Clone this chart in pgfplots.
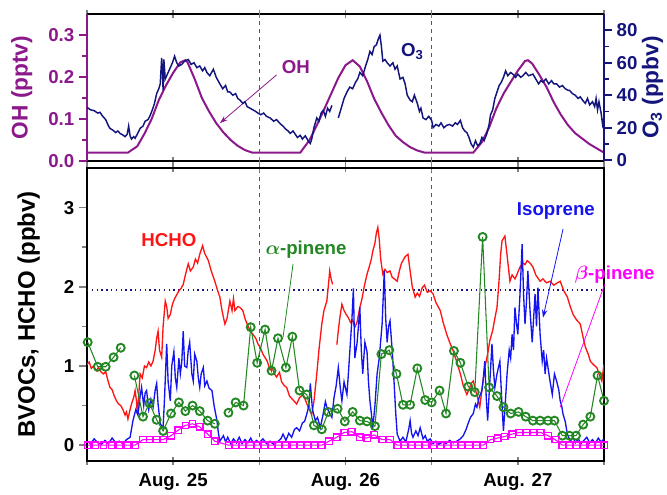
\documentclass[border=0pt]{standalone}
\usepackage{fontspec}
\setmainfont{Liberation Sans}
\usepackage{pgfplots}
\pgfplotsset{compat=1.18}
\usetikzlibrary{arrows.meta}

\definecolor{ohc}{RGB}{140,25,140}
\definecolor{o3c}{RGB}{20,20,125}
\definecolor{hchoc}{RGB}{255,20,20}
\definecolor{isoc}{RGB}{20,20,240}
\definecolor{apc}{RGB}{35,135,35}
\definecolor{bpc}{RGB}{255,0,255}

\tikzset{note/.style={font=\bfseries\fontsize{14}{16}\selectfont}}
\pgfplotsset{
  panel/.style={
    scale only axis, width=387.75pt, xmin=0, xmax=72,
    major tick length=6pt, minor tick length=3.5pt,
    tick style={line width=1.2pt},
    tick label style={font=\bfseries\fontsize{14}{16}\selectfont},
    axis line style={line width=1.8pt},
    clip mode=individual,
  },
  xframe/.style={
    axis y line=none, axis x line*=box, ymin=0, ymax=1,
    tick align=center,
    xtick={0,12,...,72},
    extra x ticks={24,48}, extra x tick labels={},
    extra x tick style={grid=major, major grid style={dashed, black!65, line width=0.9pt}},
  },
}

\begin{document}
\begin{tikzpicture}
\useasboundingbox (0,0) rectangle (500.25pt,-370.5pt);

% ---------- top panel: frame with time ticks
\begin{axis}[panel, xframe, at={(65.25pt,-10.5pt)}, anchor=north west, height=110.25pt,
  xticklabels={,,,,,,}]
\end{axis}

% OH (left axis)
\begin{axis}[panel, at={(65.25pt,-10.5pt)}, anchor=north west, height=110.25pt,
  axis x line=none, axis y line*=left, xtick=\empty,
  ymin=0, ymax=0.35, ytick={0,0.1,0.2,0.3}, yticklabels={0.0,0.1,0.2,0.3},
  minor y tick num=1, tick align=outside,
  axis line style={ohc}, tick style={ohc}, yticklabel style={ohc},
  ylabel={OH (pptv)},
  every axis y label/.style={at={(axis description cs:-0.126,0.5)}, rotate=90, anchor=center,
    text=ohc, font=\bfseries\fontsize{17}{19}\selectfont}]
\addplot[ohc, line width=1.5pt] coordinates {
(0,0.02)(5.7,0.02)(7,0.035)(8,0.065)(9,0.1)(10,0.145)(11,0.18)(12,0.21)(13,0.235)(13.7,0.24)
(14,0.235)(15,0.195)(16,0.15)(17,0.118)(18,0.09)(19,0.068)(20,0.05)(21,0.036)(22,0.026)(23,0.02)
(29.7,0.02)(31,0.05)(32,0.085)(33,0.122)(34,0.16)(35,0.198)(36,0.228)(37,0.24)
(38,0.225)(39,0.19)(40,0.148)(41,0.115)(42,0.085)(43,0.06)(44,0.045)(45,0.033)(46,0.025)(47,0.02)
(53.8,0.02)(55,0.045)(56,0.08)(57,0.125)(58,0.16)(59,0.188)(60,0.215)(61,0.238)(61.4,0.24)
(62,0.232)(63,0.205)(64,0.176)(65,0.14)(66,0.11)(67,0.085)(68,0.066)(69,0.053)(70,0.04)(71,0.03)(72,0.02)};
\node[note, ohc] at (29.1,0.223) {OH};
\draw[ohc, line width=0.6pt, -{Stealth[length=6pt,width=4pt]}] (26.4,0.205) -- (18.5,0.09);
\node[note, o3c] at (45.3,0.26) {O\textsubscript{3}};
\end{axis}

% O3 (right axis)
\begin{axis}[panel, at={(65.25pt,-10.5pt)}, anchor=north west, height=110.25pt,
  axis x line=none, axis y line*=right, xtick=\empty,
  ymin=-0.5, ymax=90, ytick={0,20,40,60,80}, yticklabels={0,20,40,60,80},
  minor y tick num=1, tick align=outside,
  axis line style={o3c}, tick style={o3c}, yticklabel style={o3c},
  ylabel={O\textsubscript{3} (ppbv)},
  every axis y label/.style={at={(axis description cs:1.094,0.5)}, rotate=90, anchor=center,
    text=o3c, font=\bfseries\fontsize{17}{19}\selectfont}]
\addplot[o3c, line width=1.1pt] coordinates {
(0,32.5)(0.5,31)(1,30.5)(1.5,29)(1.8,29.5)(2.2,27)(2.6,25)(3.0,21)(3.2,19.6)(3.6,18.5)(4,17)(4.3,18)
(4.6,16.5)(5,15.5)(5.3,14.5)(5.6,16)(5.8,21)(6,15)(6.2,13)(6.5,14.5)(6.7,13.5)(7,16)(7.4,19.6)(7.8,21)
(8.1,24)(8.5,25)(8.8,27.6)(9.1,31)(9.4,35)(9.7,41)(10,44)(10.2,47)(10.4,63)(10.5,55)(10.6,43)(10.7,62)
(10.9,50)(11.2,53)(11.6,57)(11.9,60)(12.2,64)(12.5,60)(12.8,58)(13.2,59)(13.6,61)(14.1,62)(14.5,59)
(14.9,60)(15.3,57)(15.7,58)(16.1,55)(16.4,57)(16.7,54)(17.1,52)(17.6,56)(18,51)(18.5,47)(18.9,44)
(19.3,46)(19.6,42)(19.9,42)(20.3,40)(20.7,41)(21,38)(21.3,37)(21.7,35)(22,36)(22.3,33)(22.7,32)
(23.1,31)(23.5,30)(23.8,29)(24.2,28)(24.6,29)(25,27)(25.5,26)(26,24)(26.4,25)(26.9,22.5)(27.3,21)
(27.7,19)(28,18)(28.3,16.5)(28.7,18)(29,16)(29.3,14)(29.7,15.3)(30,13)(30.4,15)(30.8,12)(31.1,10.3)
(31.3,13)(31.6,20)(32,26)(32.3,24)(32.6,29)(32.9,30.7)(33.2,27)(33.5,32)(33.8,30)(34.1,33.7)};
\addplot[o3c, line width=1.1pt] coordinates {
(35,26)(35.4,32)(35.8,38)(36.2,42)(36.6,45)(37,44)(37.4,48)(37.7,50)(38,54)(38.4,52)(38.8,58)(39.1,62)
(39.4,67)(39.7,65)(40,70)(40.3,71)(40.6,75)(40.8,77)(41.0,70)(41.2,61)(41.5,62)(41.8,60)(42.2,58)
(42.6,60)(42.9,56)(43.2,58)(43.6,50)(44,51)(44.3,47)(44.6,40)(45,37)(45.3,36)(45.6,40)(46,35)(46.3,30)
(46.5,32)(46.8,26)(47.2,25)(47.6,27)(48,24.5)(48.2,20)(48.6,22)(49,21)(49.3,23)(49.7,20)(50.1,21.5)
(50.5,22)(50.9,21)(51.3,23)(51.6,22)(52,24.5)(52.3,20)(52.6,18)(52.9,17)(53.2,14)(53.5,10)(53.8,8)
(54.1,12)(54.4,9)(54.7,10)(55,14)(55.3,12)(55.7,16.5)(56,22)(56.2,28)(56.5,31)(56.8,38)(57.1,42)
(57.4,46)(57.7,48)(58,51)(58.3,55)(58.6,52)(59,54)(59.3,53)(59.7,51)(60,53)(60.4,51)(60.7,52)(61.1,54)
(61.5,52)(62.1,53)(62.5,50)(62.9,47)(63.2,49)(63.5,48)(63.9,50)(64.3,47)(64.7,49)(65,47)(65.4,47)
(65.8,45)(66.2,46)(66.6,44)(67,43)(67.2,43)(67.6,41)(68,40)(68.4,38)(68.7,39)(69,37)(69.4,35)(69.7,38)
(70,34)(70.4,36)(70.7,33)(70.9,38)(71.1,31)(71.3,36)(71.6,29)(71.8,22)(72,26)};
\end{axis}

% ---------- bottom panel: frame with time ticks
\begin{axis}[panel, xframe, at={(65.25pt,-126pt)}, anchor=north west, height=219.75pt,
  xticklabels={,Aug. 25,,Aug. 26,,Aug. 27,}, xticklabel style={yshift=-3pt}]
\end{axis}

% BVOCs and HCHO
\begin{axis}[panel, at={(65.25pt,-126pt)}, anchor=north west, height=219.75pt,
  xtick=\empty, ymin=-0.2, ymax=3.5, ytick={0,1,2,3}, yticklabels={0,1,2,3}, minor y tick num=1,
  ytick pos=left, tick align=outside, unbounded coords=jump,
  ylabel={BVOCs, HCHO (ppbv)},
  every axis y label/.style={at={(axis description cs:-0.113,0.5)}, rotate=90, anchor=center,
    font=\bfseries\fontsize{18}{20}\selectfont}]
\addplot[o3c, line width=0.9pt, dash pattern=on 1pt off 2.6pt] coordinates {(0,1.96)(72,1.96)};
% HCHO
\addplot[hchoc, line width=1pt] coordinates {
(0,1.02)(0.3,1.05)(0.6,0.97)(0.9,1.0)(1.3,0.94)(1.6,0.98)(2,0.92)(2.3,0.9)(2.6,0.93)(2.9,0.82)(3.2,0.73)
(3.5,0.7)(3.8,0.62)(4.1,0.56)(4.4,0.52)(4.7,0.5)(5,0.45)(5.3,0.38)(5.5,0.42)(5.7,0.33)(6,0.45)(6.2,0.52)
(6.5,0.6)(6.7,0.69)(6.9,0.55)(7.0,0.39)(7.2,0.62)(7.4,0.9)(7.7,0.85)(8,1.0)(8.3,0.98)(8.6,1.05)(8.9,1.0)
(9.2,1.06)(9.5,1.2)(9.7,1.35)(9.9,1.44)(10.1,1.2)(10.4,1.11)(10.6,1.5)(10.9,1.82)(11.1,1.75)(11.3,1.6)
(11.6,1.65)(11.9,1.78)(12.2,1.85)(12.5,1.9)(12.8,1.95)(13.1,1.98)(13.4,2.03)(13.7,2.15)(14.1,2.29)
(14.4,2.2)(14.8,2.25)(15.1,2.35)(15.4,2.3)(15.7,2.41)(16.1,2.52)(16.4,2.42)(16.9,2.33)(17.3,2.2)
(17.8,2.07)(18.2,1.95)(18.5,1.87)(18.8,1.7)(19.2,1.53)(19.5,1.6)(19.9,1.82)(20.2,1.7)(20.4,1.85)
(20.6,1.7)(21,1.75)(21.3,1.74)(21.7,1.7)(22,1.6)(22.3,1.53)(22.7,1.45)(23.1,1.4)(23.5,1.35)(23.8,1.28)
(24.1,1.24)(24.5,1.15)(25.1,1.06)(25.5,0.95)(25.8,0.98)(26.1,0.9)(26.4,0.86)(26.8,0.92)(27.1,0.8)
(27.5,0.75)(27.8,0.73)(28.2,0.62)(28.6,0.58)(28.9,0.55)(29.2,0.52)(29.6,0.6)(30.1,0.64)(30.5,0.55)
(30.8,0.48)(31.1,0.42)(31.3,0.39)(31.6,0.55)(32,0.9)(32.3,1.2)(32.7,1.53)(33,1.7)(33.4,1.82)(33.6,2.0)
(33.8,2.2)(34,2.1)(34.2,2.03)};
\addplot[hchoc, line width=1pt] coordinates {
(34.8,1.27)(35,1.45)(35.2,1.6)(35.5,1.78)(35.8,1.7)(36.1,1.65)(36.4,1.61)(36.7,1.55)(37,1.58)(37.3,1.49)
(37.6,1.55)(38,1.74)(38.3,1.85)(38.6,2.0)(39,2.16)(39.3,2.25)(39.6,2.35)(39.8,2.45)(40.1,2.55)(40.3,2.68)
(40.5,2.75)(40.7,2.6)(40.9,2.35)(41.2,2.16)(41.5,2.22)(41.8,2.18)(42.2,2.2)(42.5,2.12)(42.8,2.1)
(43.2,2.07)(43.5,2.2)(43.8,2.3)(44,2.33)(44.3,2.38)(44.7,2.41)(45,2.2)(45.3,2.0)(45.7,1.87)(46,1.92)
(46.3,1.88)(46.7,1.99)(47,2.02)(47.4,1.93)(47.8,1.95)(48.2,1.91)(48.6,1.8)(49.2,1.7)(49.6,1.55)
(50.1,1.4)(50.5,1.3)(51,1.19)(51.5,1.05)(52,0.9)(52.4,0.75)(52.9,0.64)(53.2,0.7)(53.5,0.78)(53.8,0.81)
(54.1,0.7)(54.4,0.6)(54.7,0.48)(55,0.7)(55.4,0.98)(55.8,1.15)(56.1,1.32)(56.5,1.45)(56.8,1.6)(57.1,1.74)
(57.4,2.1)(57.6,2.4)(57.8,2.58)(58.2,2.64)(58.5,2.4)(58.9,2.07)(59.2,2.15)(59.6,2.1)(59.9,2.16)
(60.3,2.25)(60.7,2.3)(61,2.28)(61.3,2.33)(61.7,2.3)(62.1,2.25)(62.5,2.15)(63.1,2.07)(63.5,2.1)(64,2.05)
(64.5,2.07)(65,2.02)(65.5,2.05)(65.9,2.07)(66.4,1.95)(66.9,1.87)(67.3,1.75)(67.7,1.65)(68.2,1.58)
(68.7,1.53)(69,1.4)(69.4,1.24)(69.8,1.15)(70.1,1.06)(70.5,1.02)(71,0.98)(71.3,0.9)(71.7,0.81)(72,1.02)};
% Isoprene
\addplot[isoc, line width=1pt] coordinates {
(0,0.05)(0.5,0.02)(1,0.08)(1.5,0.03)(2,0.01)(2.5,0.06)(3,0.02)(3.5,0.09)(4,0.03)(4.5,0.05)(5,0.02)
(5.5,0.07)(6,0.1)(6.4,0.31)(6.8,0.45)(7.1,0.38)(7.4,0.62)(7.6,0.73)(7.9,0.5)(8.1,0.66)(8.3,0.69)
(8.6,0.45)(8.9,0.58)(9.2,0.48)(9.5,0.7)(9.7,0.78)(9.9,0.52)(10.2,0.27)(10.6,0.22)(10.8,0.6)(11.1,1.28)
(11.3,0.8)(11.6,0.56)(11.8,1.0)(12.1,1.18)(12.3,0.85)(12.5,0.73)(12.8,1.1)(13,0.9)(13.2,1.05)(13.4,1.44)
(13.6,1.0)(13.9,0.98)(14.1,1.2)(14.3,1.3)(14.6,0.9)(14.8,0.81)(15.0,1.15)(15.3,1.06)(15.5,0.85)
(15.7,0.73)(15.9,0.9)(16.2,0.98)(16.4,0.75)(16.7,0.81)(17,0.72)(17.4,0.69)(17.7,0.5)(18.1,0.31)
(18.3,0.15)(18.5,0.05)(19,0.12)(19.3,0.04)(19.6,0.1)(20,0.02)(20.4,0.08)(20.8,0.03)(21.2,0.1)(21.6,0.02)
(22,0.07)(22.4,0.03)(22.8,0.09)(23.2,0.02)(23.6,0.06)(24,0.03)(24.5,0.08)(25,0.02)(25.5,0.05)(26,0.01)
(26.5,0.04)(27,0.08)(27.3,0.14)(27.7,0.06)(28.1,0.15)(28.5,0.1)(28.9,0.2)(29.2,0.22)(29.6,0.18)(30,0.28)
(30.3,0.3)(30.6,0.39)(30.9,0.5)(31.1,0.78)(31.4,0.45)(31.8,0.31)(32.1,0.35)(32.5,0.22)(32.9,0.4)
(33.2,0.55)(33.4,0.48)(33.8,0.4)(34.1,0.35)(34.4,0.6)(34.7,0.75)(35,0.98)(35.3,0.7)(35.5,0.56)(35.8,0.8)
(36.2,0.64)(36.4,0.9)(36.6,1.18)(36.9,1.6)(37.1,1.98)(37.3,1.1)(37.6,1.28)(37.8,1.5)(38,1.74)(38.2,1.2)
(38.4,0.9)(38.7,1.3)(39,1.18)(39.2,0.8)(39.4,0.56)(39.6,0.4)(39.8,0.22)(40.1,0.5)(40.4,0.9)(40.7,1.1)
(41.1,1.53)(41.4,2.2)(41.6,1.6)(41.8,1.3)(42,1.5)(42.2,1.57)(42.5,1.2)(42.7,0.9)(43,0.4)(43.2,0.14)
(43.6,0.05)(44,0.1)(44.4,0.04)(44.8,0.2)(45,0.31)(45.2,0.15)(45.4,0.1)(45.8,0.18)(46.1,0.12)(46.4,0.22)
(46.8,0.08)(47.1,0.12)(47.4,0.05)(47.8,0.08)(48.2,0.02)(48.6,0.05)(49,0.01)(49.5,0.04)(50,0.02)
(50.5,0.06)(51,0.03)(51.5,0.05)(52,0.08)(52.4,0.12)(52.8,0.2)(53.1,0.28)(53.4,0.35)(53.8,0.4)(54.1,0.52)
(54.3,0.48)(54.6,0.6)(55,0.69)(55.2,0.85)(55.4,1.06)(55.6,0.6)(55.8,0.31)(56.1,0.8)(56.4,1.28)
(56.6,0.95)(56.8,0.73)(57.1,0.9)(57.5,1.06)(57.8,0.5)(58,0.18)(58.3,0.6)(58.5,0.9)(58.8,1.2)(59,1.1)
(59.2,1.4)(59.4,1.2)(59.6,1.74)(59.8,1.55)(60,1.4)(60.3,1.9)(60.6,2.54)(60.8,1.9)(61,1.53)(61.2,1.8)
(61.4,2.2)(61.7,1.7)(62,1.3)(62.2,1.6)(62.4,1.91)(62.6,1.5)(62.8,1.99)(63.1,1.4)(63.4,1.06)(63.6,1.2)
(63.8,0.9)(64,1.1)(64.2,0.98)(64.5,0.8)(64.8,0.64)(65.1,0.9)(65.4,0.81)(65.7,0.7)(65.9,0.56)(66.1,0.5)
(66.3,0.39)(66.6,0.3)(66.9,0.14)(67.3,0.05)(67.7,0.1)(68,0.03)(68.4,0.08)(68.8,0.02)(69.2,0.06)
(69.6,0.1)(70,0.03)(70.4,0.07)(70.8,0.02)(71.2,0.09)(71.6,0.04)(72,0.08)};
% alpha-pinene
\addplot[apc, line width=0.8pt, mark=o, mark size=3pt,
  mark options={line width=1.4pt, fill=white}] coordinates {
(0.1,1.3)(1.5,0.99)(2.6,0.99)(3.7,1.11)(4.7,1.23)(5.6,nan)(6.6,0.88)(7.8,0.36)(8.7,0.53)(9.7,0.32)
(10.6,0.18)(11.7,0.4)(12.8,0.54)(13.7,0.43)(14.7,0.5)(15.7,0.43)(16.8,0.31)(17.8,0.27)(18.7,nan)
(19.7,0.41)(20.7,0.54)(21.8,0.5)(22.8,1.49)(23.7,1.04)(24.8,1.46)(25.7,0.94)(26.6,1.35)(27.7,0.98)
(28.6,1.37)(29.6,0.69)(30.6,0.64)(31.6,0.25)(32.7,0.2)(33.6,0.42)(34.9,0.46)(35.9,0.3)(37,0.42)
(38,0.31)(39,0.3)(40.1,0.24)(41,1.15)(42.1,1.2)(43.1,0.9)(44,0.51)(45,0.51)(46,0.97)(47.1,0.57)(48,0.54)
(49.1,0.69)(50,0.4)(51.1,1.19)(52,1.04)(53.1,0.74)(54,0.67)(55.1,2.63)(56,0.73)(57.1,0.62)(58,0.48)
(59,0.4)(60.1,0.42)(61.1,0.36)(62.1,0.31)(63.1,0.31)(64.2,0.31)(65.1,0.31)(66.2,0.12)(67.2,0.12)
(68.1,0.12)(69.1,0.26)(70.1,0.36)(71.1,0.88)(72,0.56)};
% beta-pinene
\addplot[bpc, line width=0.8pt, mark=square, mark size=2.4pt,
  mark options={line width=1pt, fill=white}] coordinates {
(0.1,0)(1.2,0)(2.3,0)(3.4,0)(4.5,0)(5.6,0)(6.7,0)(7.8,0.07)(8.7,0.07)(9.7,0.07)(10.6,0.07)(11.7,0.12)
(12.7,0.19)(13.7,0.25)(14.7,0.27)(15.7,0.23)(16.8,0.14)(17.8,0.05)(19.7,0)(20.7,0)(21.7,0)(22.7,0)
(23.7,0)(24.7,0)(25.7,0)(26.7,0)(27.7,0)(28.7,0)(29.7,0)(30.7,0)(31.7,0)(32.7,0)(33.7,0.05)(34.8,0.1)
(35.8,0.16)(36.9,0.17)(38,0.1)(39,0.09)(40,0.13)(41.1,0.07)(42.2,0.07)(43.2,0)(44.2,0)(45.2,0)(46.2,0)
(47.2,0)(48.2,0)(49.2,0)(50.2,0)(51.2,0)(52.2,0)(53.2,0)(54.2,0)(55.2,0)(56.2,0.07)(57.2,0.09)
(58.2,0.11)(59.2,0.14)(60.2,0.16)(61.2,0.16)(62.2,0.16)(63.2,0.16)(64.2,0.12)(65.2,0.07)(66.2,0)
(67.2,0)(68.2,0)(69.2,0)(70.2,0)(71.2,0)(72,0)};
% labels
\node[note, text=hchoc] at (11.4,2.59) {HCHO};
\node[note, text=apc] at (30.5,2.47) {{\boldmath$\alpha$}-pinene};
\draw[apc, line width=0.6pt] (28.7,2.29) -- (27.3,1.36);
\node[note, text=isoc] at (65.3,2.96) {Isoprene};
\draw[isoc, line width=0.6pt, -{Stealth[length=6pt,width=4pt]}] (66.3,2.73) -- (63.5,1.61);
\node[note, text=bpc] at (73.5,2.15) {{\boldmath$\beta$}-pinene};
\draw[bpc, line width=0.6pt] (72.1,2.03) -- (65.9,0.48);
\end{axis}
\end{tikzpicture}
\end{document}
